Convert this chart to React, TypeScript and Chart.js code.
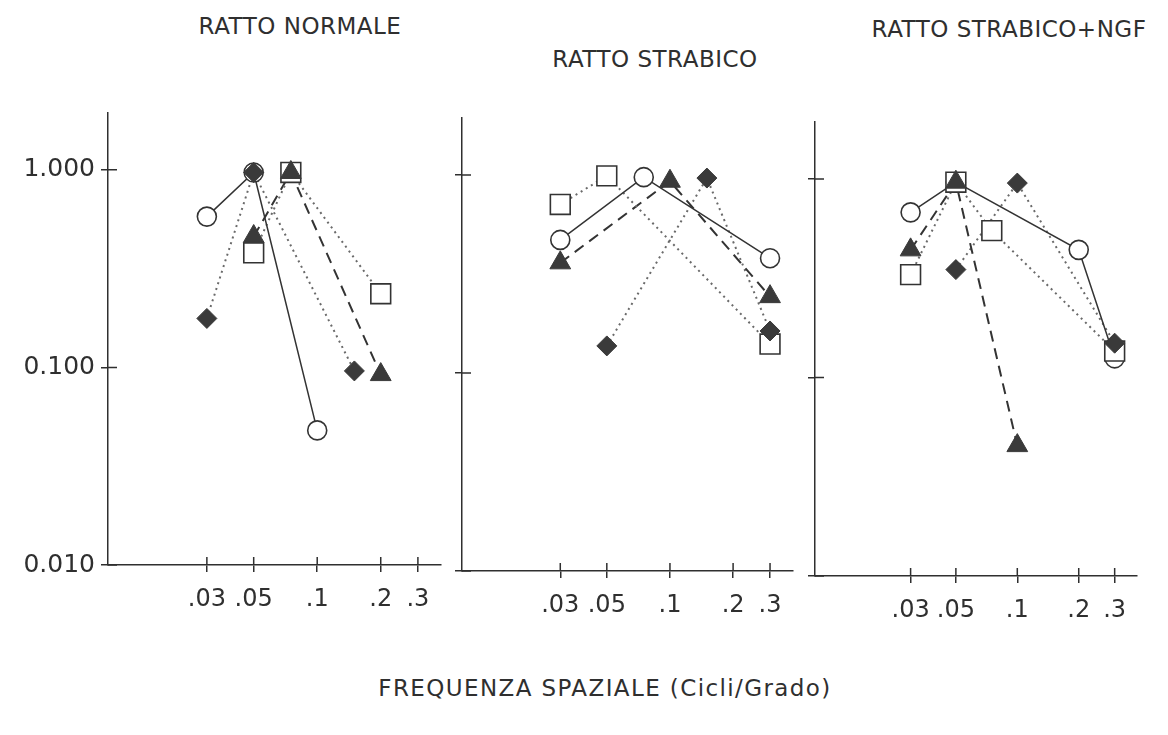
import React, { useEffect, useRef } from "react";
import { Chart, registerables } from "chart.js";
Chart.register(...registerables);

// ---------- data ----------
const xTickValues = [0.03, 0.05, 0.1, 0.2, 0.3];
const xTickLabels = [".03", ".05", ".1", ".2", ".3"];
const yTickValues = [0.01, 0.1, 1];
const yTickLabels = ["0.010", "0.100", "1.000"];
const panelTitles = ["RATTO NORMALE", "RATTO STRABICO", "RATTO STRABICO+NGF"];
const xAxisTitle = "FREQUENZA SPAZIALE (Cicli/Grado)";

// Panel 1: RATTO NORMALE
const normCircleX = [0.03, 0.05, 0.1];
const normCircleY = [0.58, 0.97, 0.048];
const normSquareX = [0.05, 0.075, 0.2];
const normSquareY = [0.38, 0.97, 0.236];
const normTriangleX = [0.05, 0.075, 0.2];
const normTriangleY = [0.46, 0.97, 0.092];
const normDiamondX = [0.03, 0.05, 0.15];
const normDiamondY = [0.177, 0.97, 0.096];

// Panel 2: RATTO STRABICO
const strCircleX = [0.03, 0.075, 0.3];
const strCircleY = [0.47, 0.975, 0.38];
const strSquareX = [0.03, 0.05, 0.3];
const strSquareY = [0.71, 0.99, 0.14];
const strTriangleX = [0.03, 0.1, 0.3];
const strTriangleY = [0.36, 0.93, 0.243];
const strDiamondX = [0.05, 0.15, 0.3];
const strDiamondY = [0.137, 0.965, 0.163];

// Panel 3: RATTO STRABICO+NGF
const ngfCircleX = [0.03, 0.05, 0.2, 0.3];
const ngfCircleY = [0.68, 0.965, 0.44, 0.125];
const ngfSquareX = [0.03, 0.05, 0.075, 0.3];
const ngfSquareY = [0.33, 0.965, 0.55, 0.136];
const ngfTriangleX = [0.03, 0.05, 0.1];
const ngfTriangleY = [0.44, 0.965, 0.0454];
const ngfDiamondX = [0.05, 0.1, 0.3];
const ngfDiamondY = [0.35, 0.955, 0.149];

// ---------- styles ----------
const FONT = "'DejaVu Sans', sans-serif";
const INK = "#2f2f2f";
const X_MIN = 0.0102;
const X_MAX = 0.386;
const Y_MIN = 0.01;
const Y_MAX = 1.94;

type Kind = "circle" | "square" | "triangle" | "diamond";
const kindStyle: Record<Kind, any> = {
  circle: { pointStyle: "circle", radius: 9.5, filled: false, dash: [], lineColor: "#333", lineWidth: 1.5, order: 3 },
  square: { pointStyle: "rect", radius: 14, filled: false, dash: [2, 4], lineColor: "#6a6a6a", lineWidth: 2, order: 2 },
  triangle: { pointStyle: "triangle", radius: 12, filled: true, dash: [11, 7], lineColor: "#333", lineWidth: 2, order: 1 },
  diamond: { pointStyle: "rectRot", radius: 10, filled: true, dash: [2, 4], lineColor: "#6a6a6a", lineWidth: 2, order: 0 },
};

const panelSeries: { kind: Kind; xs: number[]; ys: number[] }[][] = [
  [
    { kind: "circle", xs: normCircleX, ys: normCircleY },
    { kind: "square", xs: normSquareX, ys: normSquareY },
    { kind: "triangle", xs: normTriangleX, ys: normTriangleY },
    { kind: "diamond", xs: normDiamondX, ys: normDiamondY },
  ],
  [
    { kind: "circle", xs: strCircleX, ys: strCircleY },
    { kind: "square", xs: strSquareX, ys: strSquareY },
    { kind: "triangle", xs: strTriangleX, ys: strTriangleY },
    { kind: "diamond", xs: strDiamondX, ys: strDiamondY },
  ],
  [
    { kind: "circle", xs: ngfCircleX, ys: ngfCircleY },
    { kind: "square", xs: ngfSquareX, ys: ngfSquareY },
    { kind: "triangle", xs: ngfTriangleX, ys: ngfTriangleY },
    { kind: "diamond", xs: ngfDiamondX, ys: ngfDiamondY },
  ],
];

const panelLayouts = [
  { left: 0, top: 100, width: 450, height: 560, yAxisW: 108, padTop: 13, padRight: 9, xAxisH: 95, showY: true },
  { left: 450, top: 100, width: 350, height: 560, yAxisW: 12, padTop: 18, padRight: 7, xAxisH: 89, showY: false },
  { left: 800, top: 100, width: 368, height: 560, yAxisW: 15, padTop: 22, padRight: 31, xAxisH: 84, showY: false },
];

const titleLayouts = [
  { cx: 300, top: 15 },
  { cx: 655, top: 48 },
  { cx: 1009, top: 18 },
];

const innerTicks = {
  id: "innerTicks",
  beforeDatasetsDraw(chart: any) {
    const { ctx, chartArea } = chart;
    const xs = chart.scales.x;
    const ys = chart.scales.y;
    ctx.save();
    ctx.strokeStyle = INK;
    ctx.lineWidth = 1.5;
    ctx.beginPath();
    xs.ticks.forEach((t: any) => {
      const px = xs.getPixelForValue(t.value);
      ctx.moveTo(px, chartArea.bottom);
      ctx.lineTo(px, chartArea.bottom - 8);
    });
    ys.ticks.forEach((t: any) => {
      const py = ys.getPixelForValue(t.value);
      ctx.moveTo(chartArea.left, py);
      ctx.lineTo(chartArea.left + 9, py);
    });
    ctx.stroke();
    ctx.restore();
  },
};

function buildDatasets(series: { kind: Kind; xs: number[]; ys: number[] }[]) {
  const lines = series.map((s) => {
    const st = kindStyle[s.kind];
    return {
      data: s.xs.map((x, i) => ({ x, y: s.ys[i] })),
      showLine: true,
      pointRadius: 0,
      borderColor: st.lineColor,
      borderWidth: st.lineWidth,
      borderDash: st.dash,
      fill: false,
      tension: 0,
      order: 10,
      clip: false,
    };
  });
  const points = series.map((s) => {
    const st = kindStyle[s.kind];
    return {
      data: s.xs.map((x, i) => ({ x, y: s.ys[i] })),
      showLine: false,
      pointStyle: st.pointStyle,
      pointRadius: st.radius,
      pointBackgroundColor: st.filled ? "#3a3a3a" : "#ffffff",
      pointBorderColor: st.filled ? "#3a3a3a" : "#333333",
      pointBorderWidth: st.filled ? 1 : 1.6,
      order: st.order,
      clip: false,
    };
  });
  return [...lines, ...points];
}

function PanelChart({ index }: { index: number }) {
  const ref = useRef<HTMLCanvasElement | null>(null);
  const L = panelLayouts[index];
  useEffect(() => {
    if (!ref.current) return;
    const chart = new Chart(ref.current, {
      type: "scatter",
      data: { datasets: buildDatasets(panelSeries[index]) as any },
      plugins: [innerTicks],
      options: {
        animation: false,
        responsive: false,
        devicePixelRatio: 1,
        layout: { autoPadding: false, padding: { top: L.padTop, right: L.padRight, left: 0, bottom: 0 } },
        plugins: { legend: { display: false }, tooltip: { enabled: false } },
        scales: {
          x: {
            type: "logarithmic",
            min: X_MIN,
            max: X_MAX,
            afterBuildTicks: (s: any) => {
              s.ticks = xTickValues.map((v) => ({ value: v }));
            },
            afterFit: (s: any) => {
              s.height = L.xAxisH;
              s.paddingLeft = 0;
              s.paddingRight = 0;
              s.paddingTop = 0;
              s.paddingBottom = 0;
            },
            ticks: {
              autoSkip: false,
              maxRotation: 0,
              minRotation: 0,
              padding: 13,
              color: INK,
              font: { family: FONT, size: 24 },
              callback: (_v: any, i: number) => xTickLabels[i],
            },
            grid: { drawOnChartArea: false, drawTicks: true, tickLength: 7, color: INK, lineWidth: 1.5 },
            border: { display: true, color: INK, width: 1.5 },
          } as any,
          y: {
            type: "logarithmic",
            min: Y_MIN,
            max: Y_MAX,
            afterBuildTicks: (s: any) => {
              s.ticks = yTickValues.map((v) => ({ value: v }));
            },
            afterFit: (s: any) => {
              s.width = L.yAxisW;
              s.paddingLeft = 0;
              s.paddingRight = 0;
              s.paddingTop = 0;
              s.paddingBottom = 0;
            },
            ticks: {
              display: L.showY,
              padding: 6,
              color: INK,
              font: { family: FONT, size: 25 },
              callback: (_v: any, i: number) => yTickLabels[i],
            },
            grid: { drawOnChartArea: false, drawTicks: true, tickLength: 7, color: INK, lineWidth: 1.5 },
            border: { display: true, color: INK, width: 1.5 },
          } as any,
        },
      },
    });
    return () => chart.destroy();
  }, [index]);
  return (
    <canvas
      ref={ref}
      width={L.width}
      height={L.height}
      style={{ position: "absolute", left: L.left, top: L.top, width: L.width, height: L.height }}
    />
  );
}

export default function App() {
  return (
    <div
      style={{
        position: "absolute",
        left: 0,
        top: 0,
        width: 1168,
        height: 735,
        background: "#ffffff",
        overflow: "hidden",
        fontFamily: FONT,
        color: INK,
      }}
    >
      {panelLayouts.map((_, i) => (
        <PanelChart key={i} index={i} />
      ))}
      {panelTitles.map((t, i) => (
        <div
          key={t}
          style={{
            position: "absolute",
            left: titleLayouts[i].cx - 200,
            width: 400,
            top: titleLayouts[i].top,
            textAlign: "center",
            fontSize: 23,
            lineHeight: "23px",
            letterSpacing: "0.5px",
            whiteSpace: "nowrap",
          }}
        >
          {t}
        </div>
      ))}
      <div
        style={{
          position: "absolute",
          left: 255,
          width: 700,
          top: 677,
          textAlign: "center",
          fontSize: 23,
          lineHeight: "23px",
          letterSpacing: "1.4px",
          whiteSpace: "nowrap",
        }}
      >
        {xAxisTitle}
      </div>
    </div>
  );
}
